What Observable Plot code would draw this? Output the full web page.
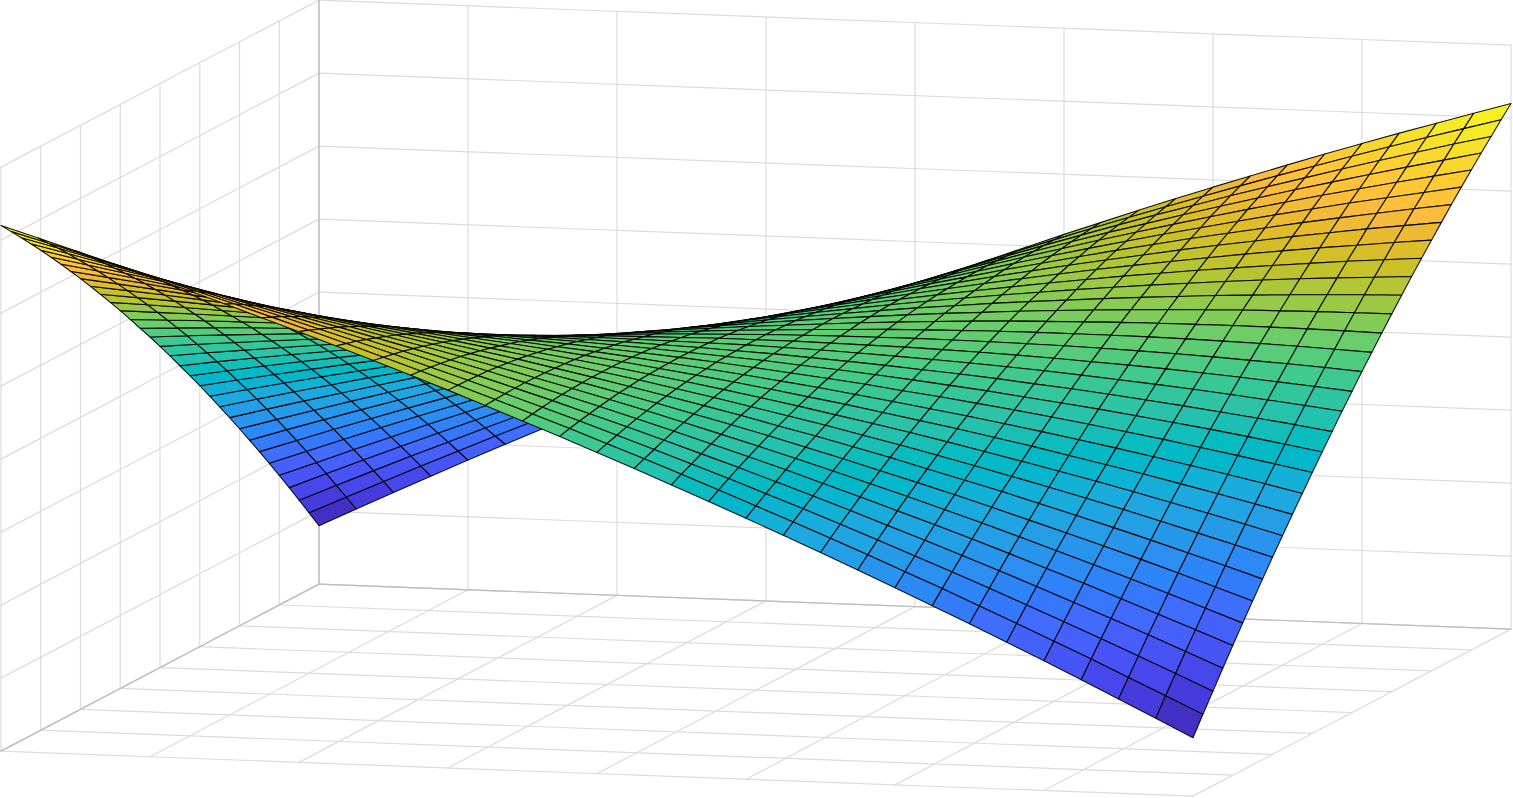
<!DOCTYPE html>
<html>
<head>
<meta charset="utf-8">
<style>html,body{margin:0;padding:0;background:#fff}svg{display:block}</style>
<script src="https://cdn.jsdelivr.net/npm/d3@7"></script>
<script src="https://cdn.jsdelivr.net/npm/@observablehq/plot@0.6"></script>
</head>
<body>
<div id="chart"></div>
<script>
const xTicks = [-1,-0.75,-0.5,-0.25,0,0.25,0.5,0.75,1];
const yTicks = [-1,-0.75,-0.5,-0.25,0,0.25,0.5,0.75,1];
const zTicks = [-1,-0.75,-0.5,-0.25,0,0.25,0.5,0.75,1];
const meshX = [-1,-0.9375,-0.875,-0.8125,-0.75,-0.6875,-0.625,-0.5625,-0.5,-0.4375,-0.375,-0.3125,-0.25,-0.1875,-0.125,-0.0625,0,0.0625,0.125,0.1875,0.25,0.3125,0.375,0.4375,0.5,0.5625,0.625,0.6875,0.75,0.8125,0.875,0.9375,1];
const meshY = meshX;
// surface heights in thousandths, one row per meshY value
const zRows = [
[-800,-738,-677,-616,-556,-497,-439,-382,-325,-269,-214,-160,-106,-54,-2,50,100,150,198,246,294,340,386,431,475,518,561,603,644,684,723,762,800],
[-738,-679,-621,-563,-507,-451,-396,-341,-288,-235,-183,-132,-82,-32,17,65,112,159,204,249,293,337,379,421,462,502,542,580,618,655,692,727,762],
[-677,-621,-566,-511,-458,-405,-353,-302,-252,-202,-153,-105,-58,-11,34,79,123,167,209,251,292,332,372,411,448,486,522,557,592,626,659,692,723],
[-616,-563,-511,-460,-410,-360,-311,-263,-216,-170,-124,-79,-35,9,51,93,134,174,214,252,290,327,364,399,434,468,501,534,565,596,626,655,684],
[-556,-507,-458,-410,-362,-316,-270,-225,-181,-138,-95,-54,-12,28,67,106,144,181,217,253,288,321,355,387,419,450,480,509,538,565,592,618,644],
[-497,-451,-405,-360,-316,-273,-230,-188,-147,-107,-68,-29,9,46,82,118,153,187,220,252,284,315,345,374,403,430,457,484,509,534,557,580,603],
[-439,-396,-353,-311,-270,-230,-191,-152,-114,-77,-41,-5,30,64,97,129,161,192,222,251,280,307,334,361,386,411,434,457,480,501,522,542,561],
[-382,-341,-302,-263,-225,-188,-152,-116,-82,-48,-14,18,50,80,111,140,168,196,223,249,275,299,323,346,368,390,411,430,450,468,486,502,518],
[-325,-288,-252,-216,-181,-147,-114,-82,-50,-19,11,40,69,96,123,150,175,200,223,246,269,290,311,331,350,368,386,403,419,434,448,462,475],
[-269,-235,-202,-170,-138,-107,-77,-48,-19,9,36,62,87,112,136,159,181,202,223,243,262,280,298,315,331,346,361,374,387,399,411,421,431],
[-214,-183,-153,-124,-95,-68,-41,-14,11,36,59,82,105,126,147,167,186,204,222,239,255,270,284,298,311,323,334,345,355,364,372,379,386],
[-160,-132,-105,-79,-54,-29,-5,18,40,62,82,102,121,140,157,174,190,205,220,234,246,259,270,280,290,299,307,315,321,327,332,337,340],
[-106,-82,-58,-35,-12,9,30,50,69,87,105,121,138,153,167,181,194,206,217,228,238,246,255,262,269,275,280,284,288,290,292,293,294],
[-54,-32,-11,9,28,46,64,80,96,112,126,140,153,165,176,187,196,205,214,221,228,234,239,243,246,249,251,252,253,252,251,249,246],
[-2,17,34,51,67,82,97,111,123,136,147,157,167,176,184,192,198,204,209,214,217,220,222,223,223,223,222,220,217,214,209,204,198],
[50,65,79,93,106,118,129,140,150,159,167,174,181,187,192,196,200,202,204,205,206,205,204,202,200,196,192,187,181,174,167,159,150],
[100,112,123,134,144,153,161,168,175,181,186,190,194,196,198,200,200,200,198,196,194,190,186,181,175,168,161,153,144,134,123,112,100],
[150,159,167,174,181,187,192,196,200,202,204,205,206,205,204,202,200,196,192,187,181,174,167,159,150,140,129,118,106,93,79,65,50],
[198,204,209,214,217,220,222,223,223,223,222,220,217,214,209,204,198,192,184,176,167,157,147,136,123,111,97,82,67,51,34,17,-2],
[246,249,251,252,253,252,251,249,246,243,239,234,228,221,214,205,196,187,176,165,153,140,126,112,96,80,64,46,28,9,-11,-32,-54],
[294,293,292,290,288,284,280,275,269,262,255,246,238,228,217,206,194,181,167,153,138,121,105,87,69,50,30,9,-12,-35,-58,-82,-106],
[340,337,332,327,321,315,307,299,290,280,270,259,246,234,220,205,190,174,157,140,121,102,82,62,40,18,-5,-29,-54,-79,-105,-132,-160],
[386,379,372,364,355,345,334,323,311,298,284,270,255,239,222,204,186,167,147,126,105,82,59,36,11,-14,-41,-68,-95,-124,-153,-183,-214],
[431,421,411,399,387,374,361,346,331,315,298,280,262,243,223,202,181,159,136,112,87,62,36,9,-19,-48,-77,-107,-138,-170,-202,-235,-269],
[475,462,448,434,419,403,386,368,350,331,311,290,269,246,223,200,175,150,123,96,69,40,11,-19,-50,-82,-114,-147,-181,-216,-252,-288,-325],
[518,502,486,468,450,430,411,390,368,346,323,299,275,249,223,196,168,140,111,80,50,18,-14,-48,-82,-116,-152,-188,-225,-263,-302,-341,-382],
[561,542,522,501,480,457,434,411,386,361,334,307,280,251,222,192,161,129,97,64,30,-5,-41,-77,-114,-152,-191,-230,-270,-311,-353,-396,-439],
[603,580,557,534,509,484,457,430,403,374,345,315,284,252,220,187,153,118,82,46,9,-29,-68,-107,-147,-188,-230,-273,-316,-360,-405,-451,-497],
[644,618,592,565,538,509,480,450,419,387,355,321,288,253,217,181,144,106,67,28,-12,-54,-95,-138,-181,-225,-270,-316,-362,-410,-458,-507,-556],
[684,655,626,596,565,534,501,468,434,399,364,327,290,252,214,174,134,93,51,9,-35,-79,-124,-170,-216,-263,-311,-360,-410,-460,-511,-563,-616],
[723,692,659,626,592,557,522,486,448,411,372,332,292,251,209,167,123,79,34,-11,-58,-105,-153,-202,-252,-302,-353,-405,-458,-511,-566,-621,-677],
[762,727,692,655,618,580,542,502,462,421,379,337,293,249,204,159,112,65,17,-32,-82,-132,-183,-235,-288,-341,-396,-451,-507,-563,-621,-679,-738],
[800,762,723,684,644,603,561,518,475,431,386,340,294,246,198,150,100,50,-2,-54,-106,-160,-214,-269,-325,-382,-439,-497,-556,-616,-677,-738,-800]
];
const parula = ["#3e26a8","#402aB5","#422ebf","#4332cb","#4537d5","#463cde","#4741e5","#4747eb","#474df0","#4752f4","#4758f8","#465dfb","#4563fd","#4269fe","#3e6fff","#3875fe","#327bfc","#2f81fa","#2d87f7","#2d8cf3","#2b91ef","#2796eb","#259be7","#23a0e5","#20a5e3","#1ca9df","#18addb","#12b1d6","#08b5d0","#01b8ca","#02bac3","#0bbdbd","#19bfb5","#24c1ae","#2cc3a7","#31c69f","#37c897","#3fca8e","#4acb84","#57cc7a","#64cd6f","#71cd64","#80cc59","#8fcb4e","#9dc943","#abc739","#b9c431","#c5c22a","#d1bf27","#dcbd29","#e6bb2d","#efba36","#f8ba3d","#febe3c","#fec338","#fec934","#fccf30","#f9d52d","#f7dc2a","#f5e327","#f5e924","#f6ef20","#f7f51b","#f9fb14"];
const view = d3.geoIdentity().scale(596).translate([755.5, 397.6]);
const project = (x, y, z) => [x - 0.2668 * y, 0.03775 * x + 0.1401 * y - 0.48993 * z];
const line = (a, b) => ({type: "LineString", coordinates: [project(...a), project(...b)]});
const gridLines = [];
for (const x of xTicks) {
  gridLines.push(line([x, -1, -1], [x, 1, -1]));
  gridLines.push(line([x, -1, -1], [x, -1, 1]));
}
for (const y of yTicks) {
  gridLines.push(line([-1, y, -1], [1, y, -1]));
  gridLines.push(line([-1, y, -1], [-1, y, 1]));
}
for (const z of zTicks) {
  gridLines.push(line([-1, -1, z], [1, -1, z]));
  gridLines.push(line([-1, -1, z], [-1, 1, z]));
}
const axisLines = [
  line([-1, -1, -1], [1, -1, -1]),
  line([-1, -1, -1], [-1, 1, -1]),
  line([-1, -1, -1], [-1, -1, 1])
];
const cells = [];
for (let j = 0; j < meshY.length - 1; ++j) {
  for (let i = 0; i < meshX.length - 1; ++i) {
    const z00 = zRows[j][i] / 1000, z10 = zRows[j][i + 1] / 1000, z11 = zRows[j + 1][i + 1] / 1000, z01 = zRows[j + 1][i] / 1000;
    const ring = [
      project(meshX[i], meshY[j], z00),
      project(meshX[i + 1], meshY[j], z10),
      project(meshX[i + 1], meshY[j + 1], z11),
      project(meshX[i], meshY[j + 1], z01),
      project(meshX[i], meshY[j], z00)
    ];
    cells.push({geometry: {type: "Polygon", coordinates: [ring]}, level: (z00 + z10 + z11 + z01) / 4});
  }
}
const chart = Plot.plot({
  width: 1513,
  height: 798,
  margin: 0,
  projection: view,
  color: {type: "linear", domain: [-0.8, 0.8], interpolate: d3.piecewise(d3.interpolateRgb, parula)},
  marks: [
    Plot.geo(gridLines, {stroke: "#dcdcdc", strokeWidth: 1.2}),
    Plot.geo(axisLines, {stroke: "#bcbcbc", strokeWidth: 1.2}),
    Plot.geo(cells, {geometry: d => d.geometry, fill: d => d.level, stroke: "#000", strokeWidth: 1.1, strokeOpacity: 0.9})
  ]
});
document.getElementById("chart").append(chart);
</script>
</body>
</html>
